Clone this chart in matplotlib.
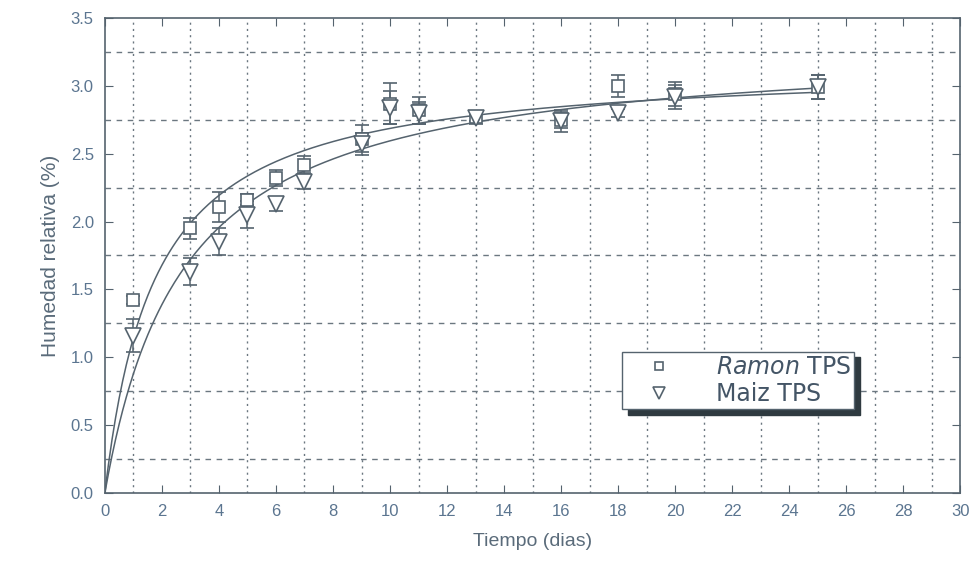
import numpy as np
import matplotlib.pyplot as plt
from matplotlib.lines import Line2D
from matplotlib.ticker import MultipleLocator, FixedLocator

plt.rcParams['font.family'] = ['Liberation Sans', 'DejaVu Sans']
plt.rcParams['mathtext.fontset'] = 'custom'
plt.rcParams['mathtext.it'] = 'DejaVu Sans:italic'
plt.rcParams['mathtext.rm'] = 'DejaVu Sans'

# Data
dias = [1, 3, 4, 5, 6, 7, 9, 10, 11, 13, 16, 18, 20, 25]
ramon = [1.42, 1.95, 2.11, 2.16, 2.32, 2.42, 2.61, 2.87, 2.82, 2.77, 2.75, 3.00, 2.94, 2.99]
ramon_err = [0.03, 0.08, 0.11, 0.04, 0.06, 0.06, 0.10, 0.15, 0.10, 0.03, 0.06, 0.08, 0.09, 0.09]
maiz = [1.16, 1.63, 1.85, 2.05, 2.13, 2.29, 2.57, 2.84, 2.80, 2.76, 2.74, 2.80, 2.92, 2.99]
maiz_err = [0.12, 0.10, 0.10, 0.10, 0.05, 0.05, 0.08, 0.12, 0.08, 0.04, 0.08, 0.03, 0.09, 0.09]

col = '#55636e'


def fit_hyperbola(x, y):
    # y = a*x/(b+x), least squares by scanning b
    x = np.asarray(x, float)
    y = np.asarray(y, float)
    best = None
    for b in np.linspace(0.05, 10, 2000):
        g = x / (b + x)
        a = (g @ y) / (g @ g)
        r = np.sum((y - a * g) ** 2)
        if best is None or r < best[0]:
            best = (r, a, b)
    return best[1], best[2]


fig = plt.figure(figsize=(9.71, 5.64), dpi=100)
ax = fig.add_axes([0.108, 0.126, 0.881, 0.842])

xs = np.linspace(0, 25, 400)
for y in (ramon, maiz):
    a, b = fit_hyperbola(dias, y)
    ax.plot(xs, a * xs / (b + xs), color=col, lw=1.1, zorder=2)

ax.errorbar(dias, ramon, yerr=ramon_err, fmt='s', mfc='white', mec=col, ms=9,
            mew=1.2, ecolor=col, elinewidth=1.1, capsize=5, capthick=1.1, zorder=3)
ax.errorbar(dias, maiz, yerr=maiz_err, fmt='v', mfc='white', mec=col, ms=11,
            mew=1.2, ecolor=col, elinewidth=1.1, capsize=5, capthick=1.1, zorder=3)

ax.set_xlim(0, 30)
ax.set_ylim(0, 3.5)
ax.xaxis.set_major_locator(MultipleLocator(2))
ax.yaxis.set_major_locator(MultipleLocator(0.5))
ax.xaxis.set_minor_locator(FixedLocator(np.arange(1, 30, 2)))
ax.yaxis.set_minor_locator(FixedLocator(np.arange(0.25, 3.5, 0.5)))
ax.yaxis.set_major_formatter(plt.FuncFormatter(lambda v, p: f'{v:.1f}'))
ax.tick_params(which='major', direction='in', length=6, top=True, right=True,
               color=col, labelcolor='#5b7590', labelsize=12, pad=8)
ax.tick_params(which='minor', length=0)
ax.xaxis.grid(True, which='minor', linestyle=(0, (1.5, 3)), color='#6b7780', lw=1)
ax.yaxis.grid(True, which='minor', linestyle=(0, (4, 4)), color='#6b7780', lw=1)
for s in ax.spines.values():
    s.set_color(col)
    s.set_linewidth(1.2)

ax.set_xlabel('Tiempo (dias)', fontsize=14, color='#5a6b7a', labelpad=10)
ax.set_ylabel('Humedad relativa (%)', fontsize=15, color='#5a6b7a', labelpad=8)

handles = [
    Line2D([], [], ls='none', marker='s', ms=6, mfc='white', mec=col, mew=1.2),
    Line2D([], [], ls='none', marker='v', ms=9, mfc='white', mec=col, mew=1.2),
]
leg = ax.legend(handles, [r'$\it{Ramon}$ TPS', 'Maiz TPS'], loc='upper left',
                bbox_to_anchor=(0.605, 0.297), prop={'family': 'DejaVu Sans', 'size': 17},
                frameon=True,
                shadow={'color': '#2f3a40', 'alpha': 1.0, 'ox': 4, 'oy': -4},
                fancybox=False, borderpad=0.15, handlelength=2.8,
                handletextpad=1.0, labelspacing=0.1, borderaxespad=0)
leg.get_frame().set_edgecolor(col)
leg.get_frame().set_linewidth(1.0)
for t in leg.get_texts():
    t.set_color('#445566')

fig.savefig('out.png', dpi=100)
